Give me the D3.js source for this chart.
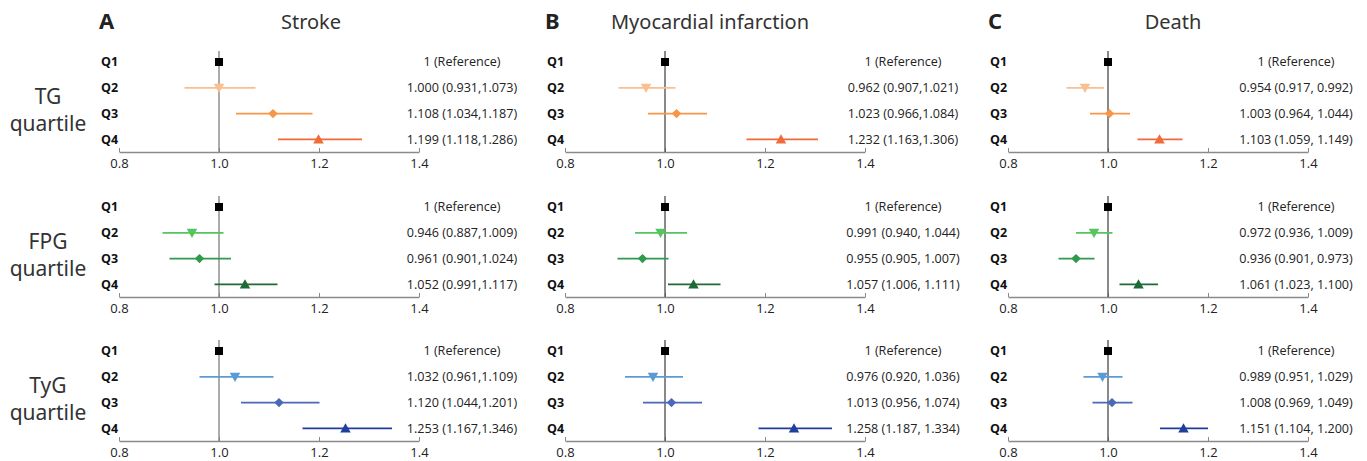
<!DOCTYPE html>
<html>
<head>
<meta charset="utf-8">
<script src="https://cdn.jsdelivr.net/npm/d3@7"></script>
<style>
  body { margin: 0; background: #fff; }
  text { font-family: 'Open Sans', sans-serif; }
</style>
</head>
<body>
<script>
// panels (columns) and rows
let outcomes = ['Stroke', 'Myocardial infarction', 'Death']
let letters = ['A', 'B', 'C']
let indices = ['TG', 'FPG', 'TyG']
let quartiles = ['Q1', 'Q2', 'Q3', 'Q4']
let ticks = [0.8, 1.0, 1.2, 1.4]

// hazard ratios, one row per index (TG, FPG, TyG), Q1..Q4
let hrStroke = [[1, 1.000, 1.108, 1.199], [1, 0.946, 0.961, 1.052], [1, 1.032, 1.120, 1.253]]
let loStroke = [[1, 0.931, 1.034, 1.118], [1, 0.887, 0.901, 0.991], [1, 0.961, 1.044, 1.167]]
let hiStroke = [[1, 1.073, 1.187, 1.286], [1, 1.009, 1.024, 1.117], [1, 1.109, 1.201, 1.346]]

let hrMI = [[1, 0.962, 1.023, 1.232], [1, 0.991, 0.955, 1.057], [1, 0.976, 1.013, 1.258]]
let loMI = [[1, 0.907, 0.966, 1.163], [1, 0.940, 0.905, 1.006], [1, 0.920, 0.956, 1.187]]
let hiMI = [[1, 1.021, 1.084, 1.306], [1, 1.044, 1.007, 1.111], [1, 1.036, 1.074, 1.334]]

let hrDeath = [[1, 0.954, 1.003, 1.103], [1, 0.972, 0.936, 1.061], [1, 0.989, 1.008, 1.151]]
let loDeath = [[1, 0.917, 0.964, 1.059], [1, 0.936, 0.901, 1.023], [1, 0.951, 0.969, 1.104]]
let hiDeath = [[1, 0.992, 1.044, 1.149], [1, 1.009, 0.973, 1.100], [1, 1.029, 1.049, 1.200]]

// separator used inside the CI text (it differs between panels in the original)
let ciSep = [[',', ',', ','], [',', ', ', ', '], [', ', ', ', ', ']]

let hr = [hrStroke, hrMI, hrDeath]
let lo = [loStroke, loMI, loDeath]
let hi = [hiStroke, hiMI, hiDeath]

// colours per index, Q2..Q4
let colors = [
  ['#f9bf91', '#f79646', '#f06a3a'],
  ['#55c55f', '#2f9a4c', '#1e6a37'],
  ['#5b9bd5', '#4a69b7', '#1f3f9b']
]

let width = 1367
let height = 461
// layout
let panelX = [119, 565, 1008]
let panelW = 300
let valueCx = [462, 903, 1296]
let titleCx = [311, 710, 1173]
let rowTop = [62, 207, 351]
let rowStep = 25.8

let svg = d3.select('body').append('svg')
  .attr('width', width)
  .attr('height', height)

let fmt = d3.format('.3f')

// row labels on the far left
indices.forEach((name, r) => {
  let t = svg.append('text')
    .attr('x', 48)
    .attr('text-anchor', 'middle')
    .style('font-family', 'Noto Sans, sans-serif')
    .style('font-size', '21px')
    .attr('fill', '#333')
  t.append('tspan').attr('x', 48).attr('y', rowTop[r] + 42).text(name)
  t.append('tspan').attr('x', 48).attr('y', rowTop[r] + 69).text('quartile')
})

outcomes.forEach((outcome, p) => {
  // panel letter and title
  svg.append('text')
    .attr('x', panelX[p] - 20)
    .attr('y', 29)
    .style('font-family', 'Noto Sans, sans-serif')
    .style('font-size', '22px')
    .style('font-weight', 'bold')
    .attr('fill', '#222')
    .text(letters[p])
  svg.append('text')
    .attr('x', titleCx[p])
    .attr('y', 29)
    .attr('text-anchor', 'middle')
    .style('font-family', 'Noto Sans, sans-serif')
    .style('font-size', '20px')
    .attr('fill', '#333')
    .text(outcome)

  let x = d3.scaleLinear()
    .domain([0.8, 1.4])
    .range([panelX[p], panelX[p] + panelW])

  indices.forEach((idx, r) => {
    let y = d3.scalePoint()
      .domain(quartiles)
      .range([rowTop[r], rowTop[r] + rowStep * 3])
    let axisY = rowTop[r] + 90
    let g = svg.append('g')

    // x axis
    let axis = d3.axisBottom(x)
      .tickValues(ticks)
      .tickFormat(d3.format('.1f'))
      .tickSizeInner(-4)
      .tickSizeOuter(0)
      .tickPadding(7)
    let ax = g.append('g')
      .attr('transform', `translate(0,${axisY})`)
      .call(axis)
    ax.select('.domain').attr('stroke', '#8a8a8a').attr('stroke-width', 1.3)
    ax.selectAll('.tick line').attr('stroke', '#8a8a8a')
    ax.selectAll('.tick text')
      .style('font-size', '13px')
      .style('font-family', 'Open Sans, sans-serif')
      .attr('fill', '#222')

    // reference line at 1
    g.append('line')
      .attr('x1', x(1)).attr('x2', x(1))
      .attr('y1', rowTop[r] - 11).attr('y2', axisY)
      .attr('stroke', p === 0 ? '#7f7f7f' : '#4a4a4a')
      .attr('stroke-width', 1.3)

    let rows = quartiles.map((q, i) => ({
      q: q,
      i: i,
      hr: hr[p][r][i],
      lo: lo[p][r][i],
      hi: hi[p][r][i]
    }))

    // quartile labels
    g.selectAll('.qlab')
      .data(rows)
      .join('text')
      .attr('class', 'qlab')
      .attr('x', panelX[p] - 18)
      .attr('y', d => y(d.q))
      .attr('dy', '0.35em')
      .style('font-size', '12.5px')
      .style('font-weight', 'bold')
      .attr('fill', '#111')
      .text(d => d.q)

    // confidence intervals
    g.selectAll('.ci')
      .data(rows.filter(d => d.i > 0))
      .join('line')
      .attr('class', 'ci')
      .attr('x1', d => x(d.lo))
      .attr('x2', d => x(d.hi))
      .attr('y1', d => y(d.q))
      .attr('y2', d => y(d.q))
      .attr('stroke', d => colors[r][d.i - 1])
      .attr('stroke-width', 1.8)

    // markers: square, down triangle, diamond, up triangle
    let shapes = [
      d3.symbol(d3.symbolSquare, 64),
      d3.symbol(d3.symbolTriangle, 48),
      d3.symbol(d3.symbolSquare, 44),
      d3.symbol(d3.symbolTriangle, 48)
    ]
    let rot = [0, 180, 45, 0]
    g.selectAll('.mk')
      .data(rows)
      .join('path')
      .attr('class', 'mk')
      .attr('d', d => shapes[d.i]())
      .attr('transform', d => `translate(${x(d.hr)},${y(d.q) + (d.i === 1 ? -1 : d.i === 3 ? 1 : 0)}) rotate(${rot[d.i]})`)
      .attr('fill', d => d.i === 0 ? '#000' : colors[r][d.i - 1])

    // value labels
    g.selectAll('.val')
      .data(rows)
      .join('text')
      .attr('class', 'val')
      .attr('x', valueCx[p])
      .attr('y', d => y(d.q))
      .attr('dy', '0.35em')
      .attr('text-anchor', 'middle')
      .style('font-size', '12.6px')
      .attr('fill', '#222')
      .text(d => d.i === 0 ? '1 (Reference)'
        : `${fmt(d.hr)} (${fmt(d.lo)}${ciSep[p][r]}${fmt(d.hi)})`)
  })
})
</script>
</body>
</html>
